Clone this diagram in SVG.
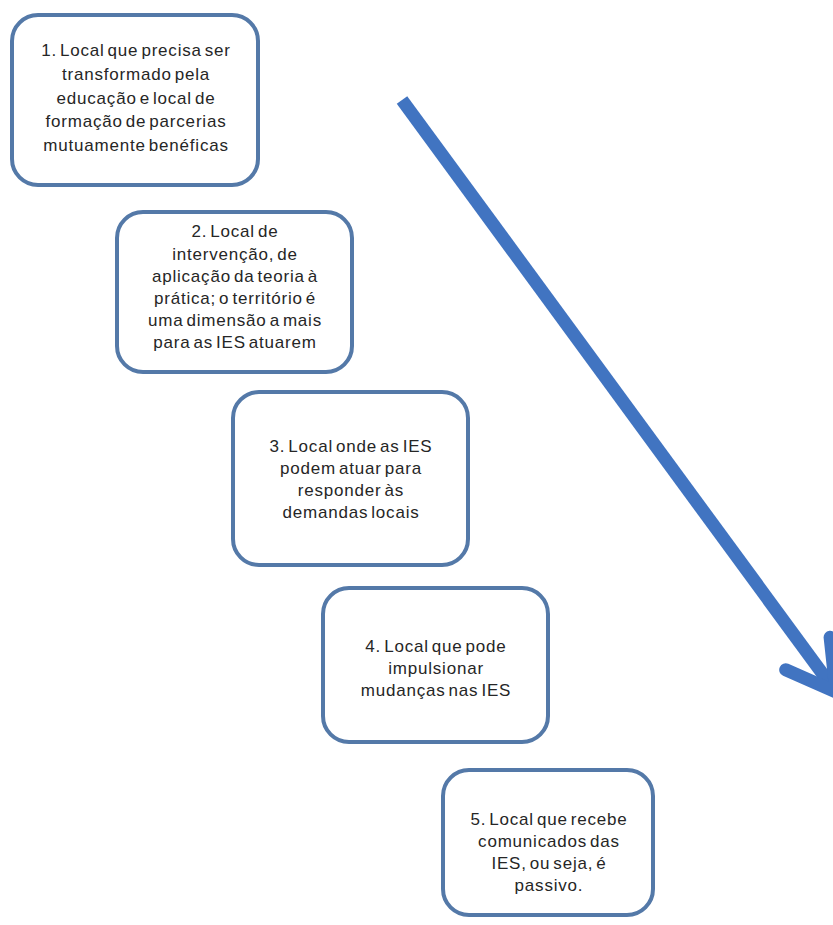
<svg xmlns="http://www.w3.org/2000/svg" width="833" height="925" viewBox="0 0 833 925">
<style>
.box{fill:#ffffff;stroke:#5479a8;stroke-width:4}
.t{font-family:"Liberation Sans",Arial,sans-serif;font-size:17px;letter-spacing:0.8px;word-spacing:-2.5px;fill:#262626;text-anchor:middle}
.arr{fill:none;stroke:#4174c1;stroke-width:13}
</style>
<rect width="833" height="925" fill="#ffffff"/>
<g id="connectors">
<path class="arr" d="M402,100 L833,688" stroke-linecap="butt"/>
<path class="arr" d="M785.7,669.8 L836,692 L830.1,637.3" stroke-width="14" stroke-linecap="round" stroke-linejoin="round"/>
</g>
<g id="node1">
<rect class="box" x="12" y="15" width="246" height="170" rx="26"/>
<text class="t" x="136" y="56">1. Local que precisa ser</text>
<text class="t" x="136" y="80">transformado pela</text>
<text class="t" x="136" y="104">educação e local de</text>
<text class="t" x="136" y="127">formação de parcerias</text>
<text class="t" x="136" y="151">mutuamente benéficas</text>
</g>
<g id="node2">
<rect class="box" x="117" y="212" width="235" height="160" rx="26"/>
<text class="t" x="235" y="237">2. Local de</text>
<text class="t" x="235" y="260">intervenção, de</text>
<text class="t" x="235" y="282">aplicação da teoria à</text>
<text class="t" x="235" y="304">prática; o território é</text>
<text class="t" x="235" y="326">uma dimensão a mais</text>
<text class="t" x="235" y="348">para as IES atuarem</text>
</g>
<g id="node3">
<rect class="box" x="233" y="392" width="235" height="173" rx="26"/>
<text class="t" x="351" y="452">3. Local onde as IES</text>
<text class="t" x="351" y="474">podem atuar para</text>
<text class="t" x="351" y="496">responder às</text>
<text class="t" x="351" y="518">demandas locais</text>
</g>
<g id="node4">
<rect class="box" x="323" y="588" width="225" height="154" rx="26"/>
<text class="t" x="436" y="652">4. Local que pode</text>
<text class="t" x="436" y="674">impulsionar</text>
<text class="t" x="436" y="696">mudanças nas IES</text>
</g>
<g id="node5">
<rect class="box" x="443" y="770" width="210" height="145" rx="26"/>
<text class="t" x="549" y="825">5. Local  que recebe</text>
<text class="t" x="549" y="847">comunicados das</text>
<text class="t" x="549" y="869">IES, ou seja, é</text>
<text class="t" x="549" y="891">passivo.</text>
</g>
</svg>
